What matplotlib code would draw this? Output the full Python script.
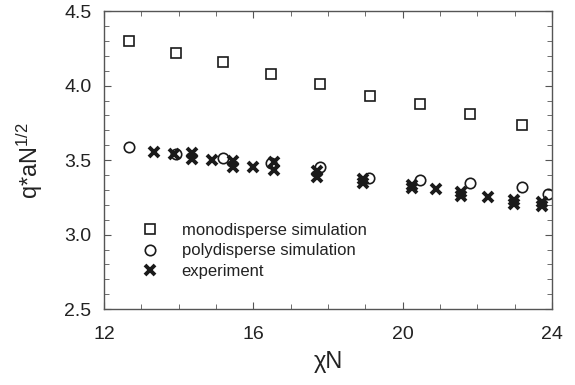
import numpy as np
import matplotlib.pyplot as plt
from matplotlib.ticker import MultipleLocator

plt.rcParams['font.family'] = ['Liberation Sans', 'DejaVu Sans']
plt.rcParams['mathtext.fontset'] = 'custom'
plt.rcParams['mathtext.rm'] = 'Liberation Sans'
plt.rcParams['mathtext.it'] = 'Liberation Sans:italic'

# monodisperse simulation
mono_x = [12.67, 13.93, 15.19, 16.48, 17.78, 19.12, 20.46, 21.81, 23.19]
mono_y = [4.297, 4.218, 4.158, 4.077, 4.008, 3.930, 3.874, 3.810, 3.735]

# polydisperse simulation
poly_x = [12.67, 13.93, 15.19, 16.48, 17.78, 19.11, 20.46, 21.81, 23.19, 23.90]
poly_y = [3.589, 3.540, 3.513, 3.482, 3.457, 3.377, 3.364, 3.350, 3.319, 3.270]

# experiment
exp_x = [13.35, 13.87, 14.36, 14.36, 14.88, 15.46, 15.46, 16.00, 16.56, 16.56,
         17.71, 17.71, 18.95, 18.95, 20.24, 20.24, 20.89, 21.55, 21.55, 22.28,
         22.98, 22.98, 23.73, 23.73]
exp_y = [3.558, 3.542, 3.545, 3.508, 3.498, 3.495, 3.455, 3.451, 3.485, 3.432,
         3.430, 3.390, 3.376, 3.346, 3.330, 3.310, 3.305, 3.285, 3.262, 3.254,
         3.231, 3.208, 3.218, 3.195]

fig = plt.figure(figsize=(5.75, 3.85), dpi=100)
ax = fig.add_axes([0.181, 0.197, 0.779, 0.774])

c = '#1a1a1a'
ax.plot(mono_x, mono_y, 's', ls='none', ms=7.5, mfc='none', mec=c, mew=1.2,
        label='monodisperse simulation')
ax.plot(poly_x, poly_y, 'o', ls='none', ms=7.5, mfc='none', mec=c, mew=1.2,
        label='polydisperse simulation')
ax.plot(exp_x, exp_y, 'x', ls='none', ms=6.5, mec=c, mew=2.8,
        label='experiment')

ax.set_xlim(12, 24)
ax.set_ylim(2.5, 4.5)
ax.xaxis.set_major_locator(MultipleLocator(4))
ax.xaxis.set_minor_locator(MultipleLocator(1))
ax.yaxis.set_major_locator(MultipleLocator(0.5))
ax.yaxis.set_minor_locator(MultipleLocator(0.1))
ax.yaxis.set_major_formatter(plt.FormatStrFormatter('%.1f'))

for s in ax.spines.values():
    s.set_color('#555555')
    s.set_linewidth(1.0)
ax.tick_params(which='both', direction='in', top=True, right=True,
               color='#555555', labelcolor='#222222', labelsize=14)
ax.tick_params(which='major', length=5)
ax.tick_params(which='minor', length=3.5)
ax.tick_params(axis='x', which='major', pad=12)
ax.tick_params(axis='y', which='major', pad=9)

ax.set_xlabel('\u03c7N', fontsize=17, color='#222222', labelpad=6)
ax.set_ylabel(r'q*aN$^{1/2}$', fontsize=17, color='#222222', labelpad=14)

leg = ax.legend(loc='upper left', bbox_to_anchor=(0.065, 0.313), frameon=False,
                fontsize=12, handlelength=1.2, handletextpad=1.3,
                labelspacing=0.35, borderaxespad=0)
for t in leg.get_texts():
    t.set_color('#222222')

fig.savefig('out.png', dpi=100)
